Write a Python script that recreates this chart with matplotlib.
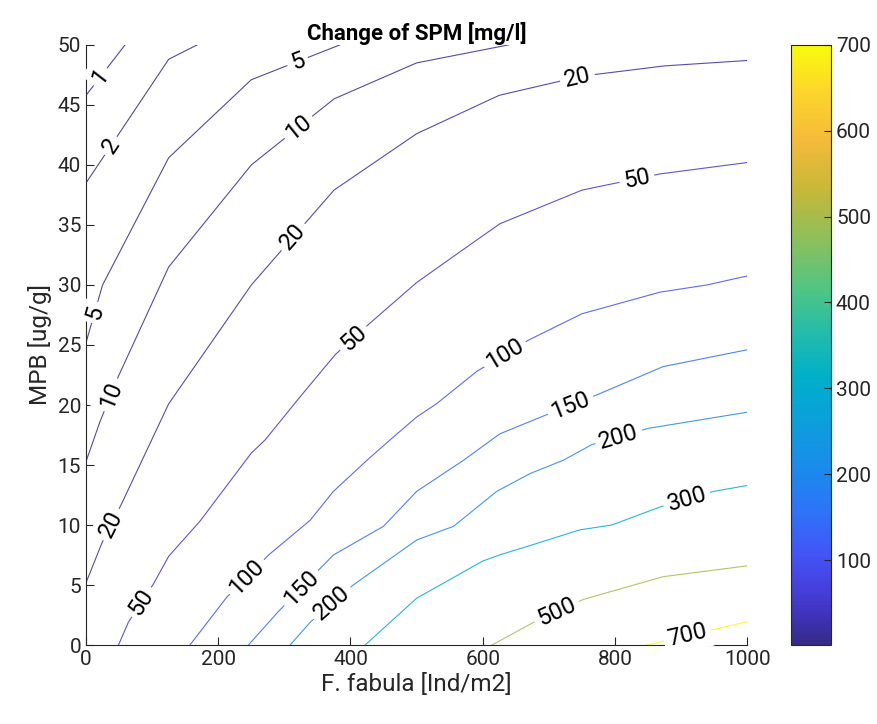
import numpy as np
import matplotlib
matplotlib.use('Agg')
import matplotlib.pyplot as plt
from matplotlib.colors import LinearSegmentedColormap, Normalize
from matplotlib.cm import ScalarMappable

plt.rcParams['font.family'] = ['Roboto', 'DejaVu Sans']

# contour levels and the lines (x = F. fabula, y = MPB)
levels = [1, 2, 5, 10, 20, 50, 100, 150, 200, 300, 500, 700]

c1_x = [0, 59]
c1_y = [45.8, 50]
c2_x = [0, 125, 168]
c2_y = [38.5, 48.8, 50]
c5_x = [0, 25, 125, 250, 384]
c5_y = [25.2, 30, 40.6, 47.1, 50]
c10_x = [0, 21, 49, 125, 250, 375, 500, 639]
c10_y = [15.3, 18.6, 22.4, 31.5, 40, 45.5, 48.5, 50]
c20_x = [0, 24, 54, 125, 250, 375, 500, 625, 750, 875, 1000]
c20_y = [5.2, 8.5, 11.8, 20.1, 30, 37.9, 42.6, 45.8, 47.4, 48.25, 48.7]
c50_x = [49, 64, 102, 125, 172, 250, 271, 324, 377, 427, 500, 591, 626, 750, 868, 1000]
c50_y = [0, 1.9, 5.1, 7.4, 10.3, 16, 17.1, 20.7, 24.2, 26.7, 30.2, 33.75, 35.1, 37.9, 39.25, 40.2]
c100_x = [157, 213, 276, 339, 374, 425, 460, 500, 530, 591, 669, 750, 868, 939, 1000]
c100_y = [0, 4, 7.5, 10.4, 12.8, 15.4, 17.1, 19, 20.1, 22.8, 25.4, 27.6, 29.4, 30, 30.75]
c150_x = [245.5, 291, 349, 374, 450, 500, 571, 626, 697, 775, 873, 1000]
c150_y = [0, 2.8, 6.1, 7.5, 9.9, 12.8, 15.4, 17.6, 19.2, 20.9, 23.2, 24.6]
c200_x = [308.6, 339, 404, 500, 556, 621, 672, 722, 765, 850, 1000]
c200_y = [0, 1.9, 5, 8.75, 9.9, 12.8, 14.3, 15.4, 16.7, 18.05, 19.4]
c300_x = [422, 500, 600, 625, 672, 747, 795, 868, 949, 1000]
c300_y = [0, 3.9, 7.0, 7.5, 8.3, 9.6, 10, 11.5, 12.8, 13.3]
c500_x = [614, 677, 752, 873, 1000]
c500_y = [0, 1.9, 3.8, 5.7, 6.6]
c700_x = [848, 1000]
c700_y = [0, 1.95]

lines_x = [c1_x, c2_x, c5_x, c10_x, c20_x, c50_x, c100_x, c150_x, c200_x, c300_x, c500_x, c700_x]
lines_y = [c1_y, c2_y, c5_y, c10_y, c20_y, c50_y, c100_y, c150_y, c200_y, c300_y, c500_y, c700_y]

# where the inline labels sit
label_pos = {
    1: [(22.7, 47.3)],
    2: [(31.8, 41.8)],
    5: [(320, 48.6), (13.6, 27.7)],
    10: [(319, 43.3), (39.3, 20.8)],
    20: [(744, 47.1), (313, 34), (39.3, 10)],
    50: [(833, 38.9), (402, 25.7), (86, 3.5)],
    100: [(634, 24.2), (242, 5.75)],
    150: [(734, 19.8), (321, 5)],
    200: [(805, 17.5), (372, 3.5)],
    300: [(909, 12.1)],
    500: [(712, 2.75)],
    700: [(909, 1.0)],
}

# rough parula
parula = LinearSegmentedColormap.from_list('parula', [
    (0.00, (0.208, 0.166, 0.529)),
    (0.05, (0.250, 0.200, 0.740)),
    (0.10, (0.275, 0.255, 0.880)),
    (0.15, (0.265, 0.330, 0.965)),
    (0.22, (0.180, 0.450, 0.975)),
    (0.30, (0.100, 0.550, 0.920)),
    (0.38, (0.040, 0.630, 0.850)),
    (0.45, (0.000, 0.690, 0.780)),
    (0.52, (0.140, 0.735, 0.670)),
    (0.60, (0.330, 0.775, 0.500)),
    (0.68, (0.560, 0.750, 0.350)),
    (0.76, (0.780, 0.720, 0.220)),
    (0.84, (0.960, 0.730, 0.230)),
    (0.92, (0.990, 0.830, 0.170)),
    (1.00, (0.976, 0.983, 0.054)),
])
norm = Normalize(vmin=1, vmax=700)
grey = (0.15, 0.15, 0.15)

fig = plt.figure(figsize=(8.78, 7.24), dpi=100)
ax = fig.add_axes([0.098, 0.109, 0.753, 0.829])
ax.set_xlim(0, 1000)
ax.set_ylim(0, 50)

for lev, xs, ys in zip(levels, lines_x, lines_y):
    ax.plot(xs, ys, color=parula(norm(lev)), lw=0.8, alpha=0.85, zorder=2)

# labels: snap onto the line and rotate along it
for lev, xs, ys in zip(levels, lines_x, lines_y):
    pts = ax.transData.transform(np.column_stack([xs, ys]))
    for lx, ly in label_pos[lev]:
        p = ax.transData.transform((lx, ly))
        best = None
        for i in range(len(pts) - 1):
            a, b = pts[i], pts[i + 1]
            d = b - a
            t = np.clip(np.dot(p - a, d) / np.dot(d, d), 0, 1)
            q = a + t * d
            dist = np.hypot(*(p - q))
            if best is None or dist < best[0]:
                best = (dist, q, d)
        _, q, d = best
        ang = np.degrees(np.arctan2(d[1], d[0]))
        if ang > 90:
            ang -= 180
        if ang < -90:
            ang += 180
        qx, qy = ax.transData.inverted().transform(q)
        ax.text(qx, qy, str(lev), rotation=ang, rotation_mode='anchor',
                ha='center', va='center', fontsize=17, color='black', zorder=4,
                bbox=dict(facecolor='white', edgecolor='none', pad=3.0))

ax.set_xticks(range(0, 1001, 200))
ax.set_yticks(range(0, 51, 5))
ax.spines['top'].set_visible(False)
ax.spines['right'].set_visible(False)
for s in ['left', 'bottom']:
    ax.spines[s].set_color(grey)
    ax.spines[s].set_linewidth(0.8)
ax.tick_params(direction='in', length=6, width=0.8, colors=grey, labelsize=15)
ax.set_xlabel('F. fabula [Ind/m2]', fontsize=17.5, color=grey, labelpad=3)
ax.set_ylabel('MPB [ug/g]', fontsize=17.5, color=grey, labelpad=4)
ax.set_title('Change of SPM [mg/l]', fontsize=16, fontweight='bold', pad=3)

cax = fig.add_axes([0.901, 0.109, 0.0456, 0.829])
sm = ScalarMappable(norm=norm, cmap=parula)
cb = fig.colorbar(sm, cax=cax)
cb.set_ticks(range(100, 701, 100))
cb.outline.set_edgecolor(grey)
cb.outline.set_linewidth(0.8)
cax.tick_params(direction='in', length=5, width=0.8, colors=grey, labelsize=15)

fig.savefig('out.png', dpi=100)
